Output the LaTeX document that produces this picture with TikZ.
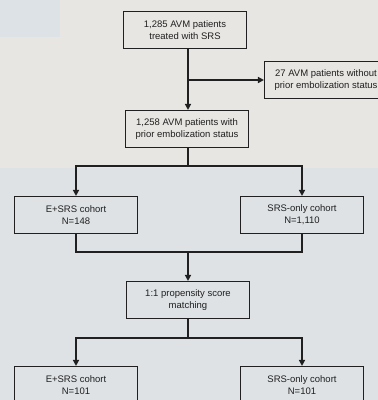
\documentclass[tikz,border=0pt]{standalone}
\usepackage{fontspec}
\setmainfont{Liberation Sans}
\usetikzlibrary{arrows.meta, positioning, calc}

\definecolor{paper}{HTML}{E8E6E3}
\definecolor{paperblue}{HTML}{DEE2E5}
\definecolor{patch}{HTML}{DCE2E5}
\definecolor{ink}{HTML}{202020}

\tikzset{
    cohortbox/.style={draw=ink, line width=1.1pt, fill=none, text=ink,
        minimum width=123pt, minimum height=37pt, align=center,
        inner sep=0pt, font=\fontsize{9.5}{12}\selectfont},
    conn/.style={draw=ink, line width=2pt},
    arr/.style={conn, -{Triangle[length=6pt,width=6pt]}}
}

\begin{document}
\begin{tikzpicture}[x=1pt, y=-1pt]
    % page and scan tint
    \useasboundingbox (0,0) rectangle (378,400);
    \clip (0,0) rectangle (378,400);
    \fill[paper] (0,0) rectangle (378,168);
    \fill[paperblue] (0,168) rectangle (378,400);
    \fill[patch] (0,0) rectangle (60,37);

    % boxes
    \node[cohortbox] (all) at (185,30) {1,285 AVM patients\\treated with SRS};
    \node[cohortbox] (excl) at (326,80) {27 AVM patients without\\prior embolization status};
    \node[cohortbox] (known) at (187,129) {1,258 AVM patients with\\prior embolization status};
    \node[cohortbox] (esrs) at (76,215) {E+SRS cohort\\N=148};
    \node[cohortbox] (srs) at (302,215) {SRS-only cohort\\N=1,110};
    \node[cohortbox] (psm) at (188,300) {1:1 propensity score\\matching};
    \node[cohortbox] (esrsm) at (76,385) {E+SRS cohort\\N=101};
    \node[cohortbox] (srsm) at (302,385) {SRS-only cohort\\N=101};

    % junctions
    \coordinate (j1) at (188,80);
    \coordinate (j2) at (188,166);
    \coordinate (j3) at (188,252);
    \coordinate (j4) at (188,338);

    % connectors
    \draw[arr] (j1 |- all.south) -- (j1 |- known.north);
    \draw[arr] (j1) -- (excl.west);
    \draw[conn] (j2 |- known.south) -- (j2);
    \draw[arr] (j2) -| (esrs.north);
    \draw[arr] (j2) -| (srs.north);
    \draw[conn] (esrs.south) |- (j3) -| (srs.south);
    \draw[arr] (j3) -- (j3 |- psm.north);
    \draw[conn] (j4 |- psm.south) -- (j4);
    \draw[arr] (j4) -| (esrsm.north);
    \draw[arr] (j4) -| (srsm.north);
\end{tikzpicture}
\end{document}
